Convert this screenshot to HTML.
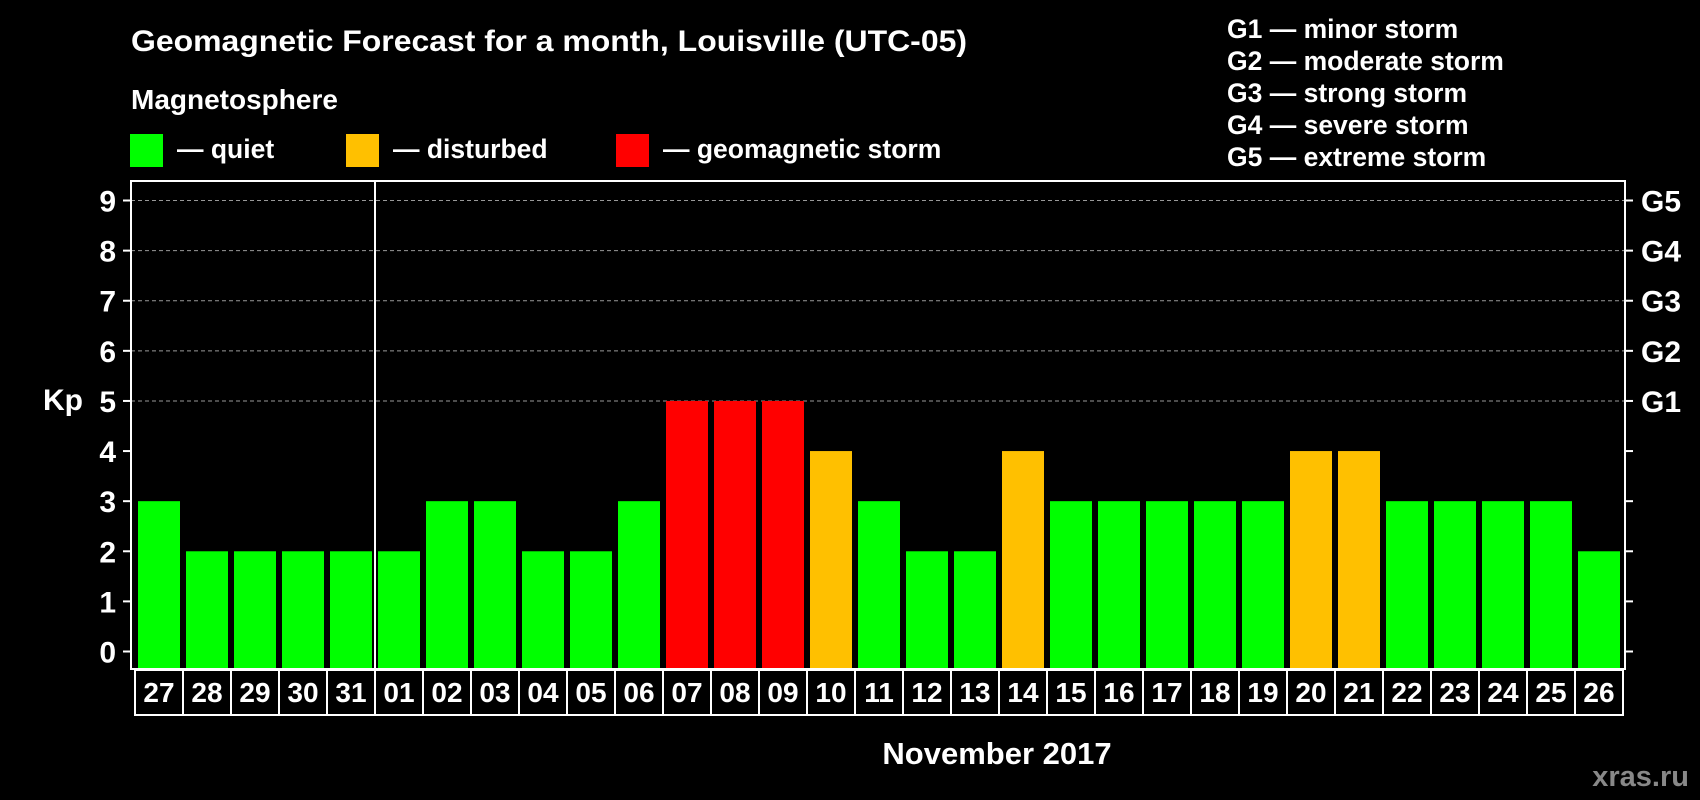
<!DOCTYPE html>
<html><head><meta charset="utf-8"><style>
body{margin:0;background:#000;width:1700px;height:800px;overflow:hidden}
svg{display:block;font-family:"Liberation Sans",Arial,sans-serif;font-weight:bold}
</style></head><body>
<svg id="c" width="1700" height="800">
<text x="131" y="51" fill="#fff" font-size="30" textLength="836" lengthAdjust="spacingAndGlyphs">Geomagnetic Forecast for a month, Louisville (UTC-05)</text>
<text x="131" y="109" fill="#fff" font-size="28">Magnetosphere</text>
<rect x="130" y="134" width="33" height="33" fill="#00ff00"/>
<text x="177" y="158" fill="#fff" font-size="26.5">— quiet</text>
<rect x="346" y="134" width="33" height="33" fill="#ffc000"/>
<text x="393" y="158" fill="#fff" font-size="26.5">— disturbed</text>
<rect x="616" y="134" width="33" height="33" fill="#ff0000"/>
<text x="663" y="158" fill="#fff" font-size="26.5">— geomagnetic storm</text>
<g fill="#fff" font-size="26.5">
<text x="1227" y="38">G1 — minor storm</text>
<text x="1227" y="70">G2 — moderate storm</text>
<text x="1227" y="102">G3 — strong storm</text>
<text x="1227" y="134">G4 — severe storm</text>
<text x="1227" y="166">G5 — extreme storm</text>
</g>
<text x="63" y="410" fill="#fff" font-size="30" text-anchor="middle">Kp</text>
<text x="997" y="764" fill="#fff" font-size="31" text-anchor="middle">November 2017</text>
<text x="1689" y="786" fill="#888" font-size="29" text-anchor="end">xras.ru</text>
<g id="plot"></g>
</svg>
<script>
const days=["27","28","29","30","31","01","02","03","04","05","06","07","08","09","10","11","12","13","14","15","16","17","18","19","20","21","22","23","24","25","26"];
const kp=[3,2,2,2,2,2,3,3,2,2,3,5,5,5,4,3,2,2,4,3,3,3,3,3,4,4,3,3,3,3,2];
const yTicks=[0,1,2,3,4,5,6,7,8,9];
const gLabels=["","","","","","G1","G2","G3","G4","G5"];
const NS="http://www.w3.org/2000/svg";
const g=document.getElementById('plot');
const L=131,R=1625,T=181,B=669;
const y=v=>651.5-v*50.11;
const x=i=>138+i*48;
function mk(t,a,txt){const e=document.createElementNS(NS,t);for(const k in a)e.setAttribute(k,a[k]);if(txt!==undefined)e.textContent=txt;g.appendChild(e);return e;}
yTicks.forEach((v,i)=>{
 if(v>=5){const l=mk('line',{x1:L,x2:R,y1:y(v),y2:y(v),stroke:'#999','stroke-dasharray':'4,3','stroke-width':1});
 
 }
 const t1=mk('line',{x1:L-8,x2:L,y1:y(v),y2:y(v),stroke:'#fff','stroke-width':2});
 
 
 const t2=mk('line',{x1:R,x2:R+8,y1:y(v),y2:y(v),stroke:'#fff','stroke-width':2});
 
 
 const tl=mk('text',{x:116,y:y(v)+11,fill:'#fff','font-size':30,'text-anchor':'end'},String(v));
 
 
 if(gLabels[i]){const gl=mk('text',{x:1641,y:y(v)+11,fill:'#fff','font-size':30},gLabels[i]);
 
 }
});
kp.forEach((v,i)=>{
 const c=v>=5?'#ff0000':(v>=4?'#ffc000':'#00ff00');
 const b=mk('rect',{x:x(i),y:y(v),width:42,height:B-1-y(v),fill:c});
 
 
 const bx=mk('rect',{x:x(i)-3,y:670,width:48,height:45,fill:'none',stroke:'#fff','stroke-width':2});
 
 
 const dl=mk('text',{x:x(i)+21,y:702,fill:'#fff','font-size':28,'text-anchor':'middle'},days[i]);
 
 
});
const fr=mk('rect',{x:L,y:T,width:R-L,height:B-T,fill:'none',stroke:'#fff','stroke-width':2});


const ml=mk('line',{x1:x(5)-3,x2:x(5)-3,y1:T,y2:B,stroke:'#fff','stroke-width':2});


</script>
</body></html>
